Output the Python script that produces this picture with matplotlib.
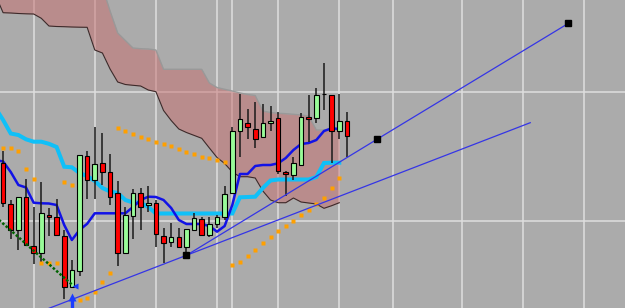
import numpy as np
import matplotlib
matplotlib.use("Agg")
import matplotlib.pyplot as plt

# ---------------- data (price units, arbitrary scale) ----------------
opens = [145.3, 104, 78, 110.7, 62.3, 54.7, 93, 90.7, 72.5, 21.3,
         37.3, 152, 128, 144.7, 136.3, 114.7, 55, 92, 115.3, 102.7,
         104.7, 72.3, 65.7, 70.7, 60.7, 78, 89, 73, 84, 91.5,
         114.7, 177.3, 185.3, 179.5, 170.7, 184.7, 189.7, 136.3, 133, 143,
         191.3, 189.7, 214, 213, 177, 186.7]
highs = [157, 108, 111, 128.7, 100.7, 126.3, 99.7, 108.7, 78, 48,
         153, 157, 180.7, 174.7, 154, 127, 101, 119, 119.7, 122,
         108, 79.7, 85.3, 79.7, 78.7, 94.7, 91, 91, 93, 122,
         181, 214, 198.7, 206, 204, 202, 195.7, 137, 150.7, 194.7,
         213, 220.5, 245, 213.5, 213.7, 196.3]
lows = [101, 69, 58, 62, 44, 46, 72, 72, 9, 20,
        32, 109, 108.7, 123, 103, 42.5, 54, 68.7, 78, 96.3,
        61.5, 44.7, 61.5, 60, 53, 77, 72, 71, 79.7, 88,
        114, 150.7, 168.7, 160, 170.5, 177.3, 134, 112.5, 128, 142,
        166, 185, 198.5, 144.7, 168.7, 150.7]
closes = [104.7, 78, 110.7, 63, 54.7, 94.7, 90.7, 73, 21.5, 38,
          152.7, 128, 144, 136.3, 111.3, 54.7, 93, 115.3, 101.5, 104.7,
          74, 65.5, 70.7, 60.7, 78.7, 89.7, 73, 84, 90.7, 114,
          177.3, 188.7, 181.3, 168.7, 184.7, 187, 136.7, 133.7, 144.7, 190.7,
          189.3, 213.5, 213.7, 176.7, 186.7, 172.3]

# indicators start one bar before the first visible candle (bar -1)
ind_start = -1
tenkan = [148, 146.5, 136, 123, 120.5, 105.3, 104.7, 104.5, 103, 83, 68,
          78, 84.2, 94.7, 94.7, 94.7, 94.7, 94.7, 101, 108, 111.3,
          111, 108, 100, 88, 84, 84, 84, 82, 76.3, 82,
          103, 134, 134, 142, 143, 143, 144.7, 150, 158, 164,
          165, 168, 177, 179.7, 179]
kijun = [200, 188, 174.5, 173, 168.7, 166.3, 166.3, 164.2, 161, 141.3, 140.7,
         135, 132, 127, 120, 116.5, 115, 108, 105.5, 105.3, 101,
         94.5, 94.5, 94.5, 94.5, 94.5, 94.5, 94.5, 94.5, 94.5, 94.5,
         94.5, 110.7, 111, 111.3, 120, 127.5, 128.5, 128.5, 128.5, 128.5,
         128.5, 131, 145, 145.3, 145.3]
span_a = [330, 330, 330, 330, 330, 330, 330, 330, 330, 330, 330,
          330, 330, 330, 321, 297, 275, 267.5, 260, 259.3, 259,
          258, 238.7, 238.7, 238.7, 238.7, 238.7, 238.7, 225, 220.5, 218.7,
          217, 215, 213.5, 212.5, 197, 195.5, 194.7, 194.3, 193.7, 193,
          192, 178, 178, 178, 178]
span_b = [313, 295.3, 295, 294.5, 294.2, 294, 289.7, 282, 281.5, 281.3, 281,
          280.8, 280.7, 258, 255, 239, 226, 223.5, 222.7, 222, 218,
          216.3, 197.5, 187.5, 179, 175.5, 172.6, 169.7, 160, 150.5, 144.5,
          136, 131.3, 131.3, 130, 117, 108, 105.3, 105.3, 110, 106,
          105, 104, 99.7, 102.3, 105.3]
sar = [160.3, 159.7, 157.3, 138.7, 128.7, 44.7, 44.7, 44.7, 126.3, 123,
       8, 10.3, 15.7, 26.3, 35.3, 180.3, 177, 174, 171.3, 168.7,
       166.3, 164, 162, 159, 155.7, 153.7, 151.3, 149.7, 148, 146.3,
       43, 46, 52, 58, 64.7, 71.3, 77, 82, 87.3, 93,
       98, 103.7, 109.7, 120.3, 130.3]

trend_a_bars = [24, 69]
trend_a_prices = [52.7, 185.3]
trend_b_bars = [24, 49, 74]
trend_b_prices = [52.7, 169, 284.7]
green_line_bars = [-1, 9]
green_line_prices = [91.2, 23.5]
buy_arrow_bar, buy_arrow_price = 9, 13
close_mark_bar, close_mark_price = 9.45, 22.5

grid_bars = [4, 12, 20, 28, 30, 36, 44, 51, 60, 68, 76]
grid_prices = [87, 216.3]

# ---------------- styling ----------------
BG = '#ababab'
GRID = '#dedede'

fig = plt.figure(figsize=(6.25, 3.08), dpi=100)
ax = fig.add_axes([0, 0, 1, 1])
ax.set_facecolor(BG)
fig.patch.set_facecolor(BG)
ax.set_xlim(-0.406, 81.4)
ax.set_ylim(0, 308)
for s in ax.spines.values():
    s.set_visible(False)
ax.set_xticks([])
ax.set_yticks([])

for g in grid_bars:
    ax.axvline(g, color=GRID, lw=1.1, zorder=1)
for h in grid_prices:
    ax.axhline(h, color=GRID, lw=1.1, zorder=1)

ix = np.arange(ind_start, ind_start + len(span_a))
ax.fill_between(ix, span_b, span_a, color='#c86e6e', alpha=0.5, lw=0, zorder=2)
ax.plot(ix, span_a, color='#999999', lw=1.0, zorder=3)
ax.plot(ix, span_b, color='#3c2a2a', lw=0.8, zorder=3)

ax.plot(np.arange(ind_start, ind_start + len(kijun)), kijun,
        color='#10c0f8', lw=2.9, zorder=4, solid_joinstyle='miter')
ax.plot(np.arange(ind_start, ind_start + len(tenkan)), tenkan,
        color='#1212e6', lw=1.8, zorder=5)

# candles
o = np.array(opens); h = np.array(highs); l = np.array(lows); c = np.array(closes)
bars = np.arange(len(o))
ax.vlines(bars, l, h, color='#1a1a1a', lw=1.1, zorder=6)
bull = c > o
cols = np.where(bull, '#98fb98', '#ff0000')
height = np.maximum(np.abs(c - o), 0.8)
ax.bar(bars, height, bottom=np.minimum(o, c), width=0.6, color=cols,
       edgecolor='black', linewidth=0.8, zorder=7)

# parabolic SAR
ax.plot(np.arange(len(sar)), sar, ls='none', marker='s', ms=2.6,
        color='#ffa000', mec='none', zorder=8)

# dotted green trend line
ax.plot(green_line_bars, green_line_prices, color='#006400', lw=1.8,
        ls=(0, (1, 0.8)), zorder=8)

# blue trend lines
slope_a = (trend_a_prices[1] - trend_a_prices[0]) / (trend_a_bars[1] - trend_a_bars[0])
xa = [0, trend_a_bars[1]]
ya = [trend_a_prices[0] - slope_a * (trend_a_bars[0] - 0), trend_a_prices[1]]
ax.plot(xa, ya, color='#3535e6', lw=0.9, zorder=9)
ax.plot(trend_b_bars, trend_b_prices, color='#3535e6', lw=0.9, zorder=9)
ax.plot(trend_b_bars, trend_b_prices, ls='none', marker='s', ms=4.3,
        color='black', zorder=10)

# trade arrows
ax.vlines(buy_arrow_bar, 0, buy_arrow_price - 2, color='#1a3cff', lw=2.4, zorder=10)
ax.plot([buy_arrow_bar], [buy_arrow_price - 2], marker='^', ms=5.5,
        color='#1a3cff', mec='none', zorder=10)
ax.plot([close_mark_bar], [close_mark_price], marker='<', ms=4.5,
        color='#1a3cff', mec='none', zorder=10)

fig.savefig('out.png', dpi=100, facecolor=BG)
